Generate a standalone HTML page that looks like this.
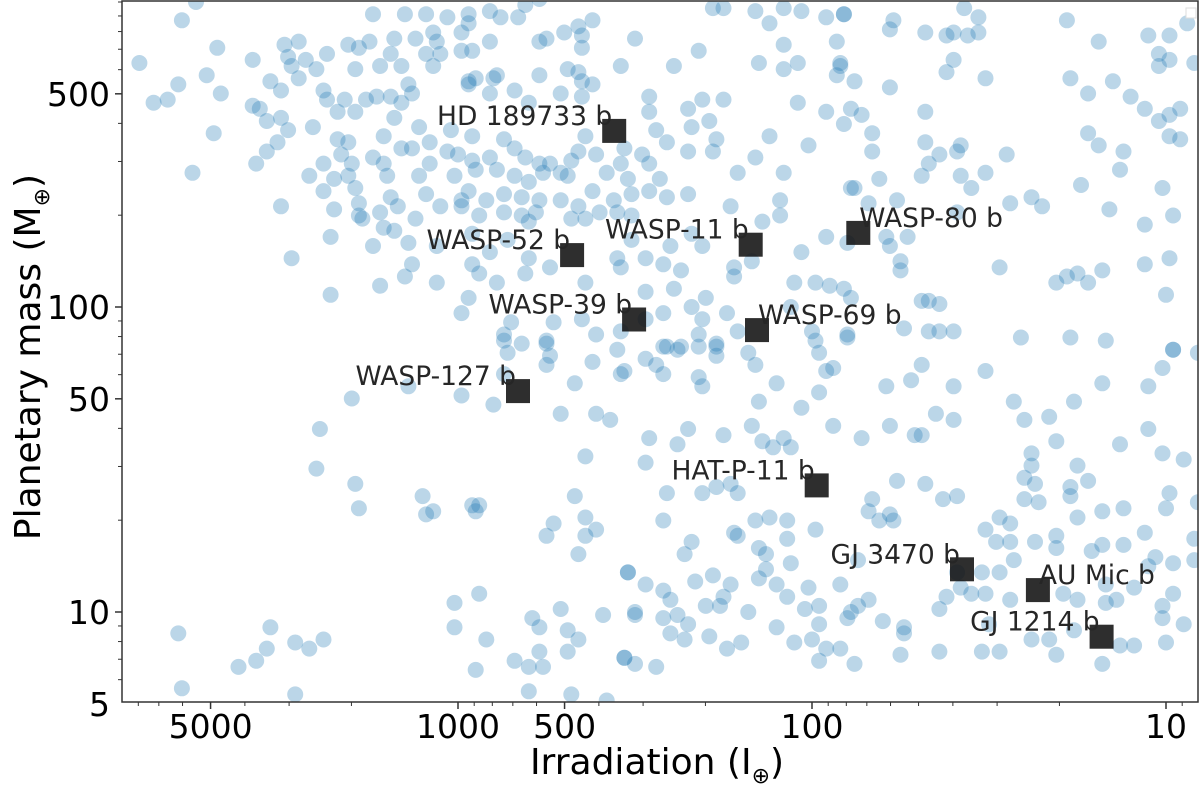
<!DOCTYPE html>
<html><head><meta charset="utf-8"><style>
html,body{margin:0;padding:0;background:#fff;}
svg{display:block;font-family:"DejaVu Sans","Liberation Sans",sans-serif;}
</style></head><body>
<svg id="chart" width="1200" height="789" viewBox="0 0 1200 789" xmlns="http://www.w3.org/2000/svg">
<defs><clipPath id="plotclip"><rect x="122" y="1" width="1076" height="701"/></clipPath></defs>
<g id="points" clip-path="url(#plotclip)"></g>
<g id="planets"></g>
<rect x="122" y="1" width="1076" height="701" fill="none" stroke="#333" stroke-width="1.5"/>
<rect x="1186" y="8" width="10" height="10" fill="#fff" stroke="#ddd" stroke-width="1"/>
<g id="axes"></g>
<text x="657" y="774" text-anchor="middle" font-size="36" fill="#000">Irradiation (I<tspan font-size="22" dy="9">⊕</tspan><tspan dy="-9">)</tspan></text>
<text transform="translate(40,357) rotate(-90)" text-anchor="middle" font-size="36" fill="#000">Planetary mass (M<tspan font-size="22" dy="9">⊕</tspan><tspan dy="-9">)</tspan></text>
</svg>
<script>
// log10(irradiation), log10(mass) pairs for the background exoplanet population
const populationLog = [
[3.90,2.80],[3.86,2.67],[3.82,2.68],[3.79,2.73],[3.78,2.94],[3.74,3.00],[3.75,2.44],[3.71,2.76],[3.69,2.57],[3.68,2.85],[3.67,2.70],[3.58,2.66],[3.58,2.81],[3.57,2.47],[3.56,2.65],[3.54,2.61],[3.54,2.51],[3.53,2.74],[3.51,2.54],[3.50,2.71],[3.50,2.33],[3.50,2.62],[3.49,2.86],[3.48,2.58],[3.48,2.82],[3.47,2.79],[3.47,2.16],[3.45,2.87],[3.45,2.75],[3.43,2.81],[3.42,2.43],[3.41,2.59],[3.40,2.78],[3.38,2.71],[3.38,2.47],[3.38,2.38],[3.37,2.83],[3.37,2.68],[3.36,2.23],[3.36,2.04],[3.35,2.32],[3.35,2.42],[3.34,2.55],[3.34,2.64],[3.33,2.50],[3.32,2.68],[3.31,2.86],[3.31,2.43],[3.31,2.54],[3.30,2.47],[3.29,2.64],[3.29,2.39],[3.29,2.78],[3.28,2.30],[3.28,2.85],[3.28,2.34],[3.27,2.29],[3.26,2.68],[3.25,2.87],[3.24,2.96],[3.24,2.49],[3.24,2.20],[3.23,2.69],[3.22,2.79],[3.22,2.31],[3.22,2.07],[3.21,2.56],[3.21,2.26],[3.21,2.47],[3.20,2.43],[3.19,2.83],[3.19,2.36],[3.19,2.69],[3.18,2.88],[3.18,2.62],[3.18,2.25],[3.17,2.33],[3.16,2.79],[3.16,2.67],[3.16,2.52],[3.15,2.10],[3.15,2.96],[3.14,2.21],[3.14,2.73],[3.13,2.70],[3.13,2.52],[3.13,2.14],[3.12,2.88],[3.12,2.29],[3.11,2.43],[3.11,2.59],[3.09,2.96],[3.09,2.83],[3.09,2.37],[3.08,2.54],[3.08,2.47],[3.07,2.79],[3.07,2.90],[3.06,2.20],[3.06,2.08],[3.06,2.87],[3.05,2.33],[3.05,2.83],[3.03,2.95],[3.03,2.51],[3.02,2.58],[3.01,2.43],[3.00,2.50],[2.99,1.98],[2.99,2.90],[2.99,2.84],[2.99,2.35],[2.97,2.73],[2.97,2.96],[2.97,2.93],[2.97,2.03],[2.96,2.56],[2.96,2.14],[2.96,2.84],[2.95,2.75],
[2.91,2.97],[2.88,2.95],[2.83,2.95],[2.81,2.99],[2.77,3.01],[2.91,2.87],[2.77,2.87],[2.75,2.88],[2.70,2.90],[2.66,2.92],[2.65,2.89],[2.65,2.85],[2.62,2.94],[2.50,2.88],[2.32,2.84],[2.28,2.98],[2.25,2.98],[2.16,2.97],[2.12,2.93],[2.08,2.98],[2.03,2.97],[1.96,2.95],[1.91,2.96],[2.08,2.86],[1.93,2.87],[2.15,2.80],[2.08,2.78],[2.04,2.80],[1.92,2.80],[1.93,2.76],[2.39,2.79],[2.54,2.79],[2.97,2.74],[2.90,2.75],[2.89,2.76],[2.91,2.70],[2.84,2.71],[2.77,2.76],[2.69,2.78],[2.66,2.77],[2.65,2.74],[2.62,2.73],[2.71,2.70],[2.65,2.69],[2.80,2.67],[2.46,2.69],[2.46,2.64],[2.44,2.58],[2.35,2.65],[2.34,2.59],[2.31,2.68],[2.25,2.68],[2.29,2.61],[2.27,2.55],[2.04,2.67],[1.96,2.64],[1.91,2.60],[1.89,2.65],[2.12,2.56],[2.01,2.53],[2.16,2.49],[2.21,2.44],[2.08,2.44],[2.41,2.54],[2.35,2.51],[2.28,2.51],[2.48,2.50],[2.46,2.47],[2.53,2.52],[2.61,2.50],[2.58,2.44],[2.54,2.47],[2.52,2.42],[2.43,2.42],[2.46,2.38],[2.41,2.36],[2.35,2.37],[2.23,2.33],[2.09,2.35],[2.09,2.30],[2.14,2.28],[1.89,2.39],[2.64,2.56],[2.66,2.51],[2.68,2.48],[2.71,2.44],[2.74,2.47],[2.77,2.47],[2.81,2.49],[2.84,2.52],[2.87,2.55],[2.91,2.49],[2.96,2.48],[2.95,2.45],[2.89,2.45],[2.84,2.43],[2.80,2.41],[2.76,2.44],[2.69,2.43],[2.62,2.38],[2.56,2.35],[2.51,2.37],[2.60,2.31],[2.66,2.33],[2.71,2.35],[2.77,2.35],[2.82,2.36],[2.87,2.37],[2.92,2.35],[2.97,2.38],[2.99,2.33],[2.94,2.30],[2.87,2.31],[2.82,2.30],[2.78,2.31],[2.80,2.28],[2.68,2.29],[2.64,2.29],[2.55,2.31],[2.51,2.30],[2.96,2.24],[2.91,2.18],[2.86,2.22],[2.80,2.16],[2.74,2.13],[2.94,2.11],[2.89,2.08],[2.81,2.11],[2.55,2.16],[2.54,2.13],[2.51,2.22],[2.47,2.16],[2.42,2.14],[2.37,2.12],[2.40,2.20],[2.34,2.24],[2.31,2.20],[2.22,2.13],[2.22,2.10],[2.17,2.15],[2.03,2.18],[2.05,2.08],[1.96,2.23],[1.99,2.08],[1.95,2.07],[1.91,2.06],[1.89,2.03],[2.64,2.08],[2.47,2.05],[2.39,2.06],[2.30,2.03],[2.34,2.00],[2.42,1.98],[2.47,1.96],[2.54,1.92],[2.65,1.96],[2.73,1.95],[2.85,1.95],[2.87,1.91],[2.82,1.88],[2.75,1.88],[2.42,1.87],[2.37,1.87],[2.32,1.91],[2.31,1.96],[2.24,1.98],[2.21,1.92],[2.06,2.00],[2.00,1.92],[1.90,1.91],[2.27,1.87],[2.18,1.85],[2.61,1.91],
[1.91,2.96],[1.77,2.94],[1.78,2.91],[1.68,2.90],[1.62,2.89],[1.60,2.90],[1.57,2.98],[1.56,2.89],[1.53,2.90],[1.53,2.95],[1.28,2.94],[1.19,2.87],[1.05,2.89],[0.99,2.89],[1.02,2.83],[0.99,2.81],[1.02,2.79],[0.94,2.93],[0.92,2.80],[1.92,2.79],[1.88,2.74],[1.78,2.72],[1.60,2.81],[1.62,2.77],[1.51,2.75],[1.27,2.75],[1.22,2.70],[1.15,2.74],[1.10,2.69],[1.06,2.65],[1.02,2.61],[0.99,2.63],[0.96,2.65],[0.99,2.56],[0.96,2.55],[1.86,2.63],[1.83,2.57],[1.83,2.51],[1.68,2.64],[1.68,2.54],[1.64,2.50],[1.59,2.51],[1.58,2.53],[1.67,2.47],[1.69,2.43],[1.58,2.43],[1.55,2.39],[1.51,2.44],[1.45,2.50],[1.22,2.57],[1.19,2.53],[1.12,2.51],[1.13,2.45],[1.24,2.40],[1.01,2.39],[1.88,2.39],[1.81,2.42],[1.84,2.34],[1.76,2.35],[1.73,2.23],[1.79,2.23],[1.78,2.20],[1.90,2.21],[1.75,2.15],[1.75,2.12],[1.59,2.31],[1.44,2.34],[1.38,2.36],[1.35,2.33],[1.16,2.32],[0.98,2.30],[1.06,2.27],[1.47,2.13],[1.31,2.08],[1.28,2.10],[1.25,2.11],[1.22,2.08],[1.18,2.12],[1.06,2.14],[0.99,2.16],[1.00,2.04],[1.69,2.02],[1.67,2.02],[1.64,2.01],[1.74,1.93],[1.67,1.92],[1.64,1.92],[1.60,1.92],[1.90,1.90],[1.41,1.90],[1.27,1.90],[1.17,1.89],[0.98,1.86],[0.91,1.85],
[2.87,1.89],[2.75,1.89],[2.86,1.85],[2.74,1.84],[2.75,1.81],[2.62,1.82],[2.55,1.86],[2.54,1.78],[2.67,1.75],[2.87,1.78],[3.14,1.74],[2.99,1.71],[2.90,1.68],[3.30,1.70],[2.71,1.65],[2.61,1.65],[2.57,1.63],[3.39,1.60],[2.64,1.51],[3.40,1.47],[3.29,1.42],[3.10,1.38],[3.28,1.34],[3.09,1.32],[3.07,1.33],[2.96,1.35],[2.94,1.35],[2.95,1.33],[2.67,1.38],[2.64,1.31],[2.73,1.29],[2.61,1.27],[2.75,1.25],[2.64,1.25],[2.66,1.19],[2.52,1.13],[2.94,1.06],[3.01,1.03],[2.79,0.98],[2.71,1.01],[2.59,0.99],[2.50,1.00],[2.77,0.95],[2.69,0.94],[3.01,0.95],[2.92,0.91],[2.66,0.91],[2.77,0.87],[2.69,0.87],[2.84,0.84],[2.80,0.82],[2.76,0.82],[2.53,0.85],[2.50,0.83],[2.95,0.81],[2.80,0.74],[2.68,0.73],[2.58,0.71],[3.79,0.93],[3.78,0.75],[3.53,0.95],[3.54,0.88],[3.57,0.84],[3.62,0.82],[3.46,0.90],[3.42,0.88],[3.38,0.91],[3.46,0.73],
[2.53,1.79],[2.47,1.83],[2.44,1.81],[2.42,1.78],[2.41,1.87],[2.38,1.86],[2.32,1.87],[2.32,1.77],[2.31,1.74],[2.27,1.84],[2.27,1.88],[2.16,1.81],[2.15,1.69],[2.10,1.75],[2.03,1.67],[1.99,1.89],[1.98,1.85],[1.96,1.79],[1.94,1.80],[1.98,1.72],[1.94,1.61],[1.86,1.57],[1.79,1.74],[1.78,1.61],[1.72,1.76],[1.71,1.58],[1.69,1.58],[1.69,1.81],[1.65,1.65],[1.60,1.74],[1.60,1.63],[1.51,1.79],[1.43,1.69],[1.40,1.63],[1.33,1.64],[1.31,1.56],[1.26,1.69],[1.18,1.75],[1.05,1.74],[1.05,1.60],[1.13,1.55],[1.01,1.52],[0.95,1.50],[0.98,1.86],[1.01,1.80],[2.46,1.57],[2.38,1.55],[2.35,1.60],[2.25,1.58],[2.17,1.61],[2.14,1.56],[2.11,1.54],[2.08,1.57],[2.06,1.54],[2.47,1.49],[2.41,1.39],[2.42,1.30],[2.31,1.39],[2.27,1.41],[2.23,1.42],[2.21,1.39],[2.34,1.23],[2.36,1.19],[2.22,1.26],[2.21,1.25],[2.16,1.30],[2.12,1.31],[2.07,1.30],[2.07,1.24],[1.99,1.27],[2.15,1.21],[2.13,1.19],[2.15,1.11],[2.13,1.14],[2.06,1.16],[2.52,1.13],[2.47,1.09],[2.42,1.07],[2.40,1.04],[2.33,1.10],[2.28,1.12],[2.23,1.09],[2.30,1.02],[2.26,1.02],[2.25,1.05],[2.50,0.99],[2.42,0.98],[2.38,0.99],[2.35,0.96],[2.40,0.93],[2.36,0.91],[2.29,0.92],[2.24,0.88],[2.20,0.90],[2.18,1.00],[2.53,0.85],[2.44,0.82],[2.10,1.09],[2.07,1.05],[2.01,1.08],[2.02,1.01],[1.98,1.02],[1.98,0.96],[1.90,0.98],[1.89,1.00],[1.87,1.02],[1.80,0.97],[1.84,1.04],[1.92,1.09],[1.87,1.17],[2.10,0.95],[2.05,0.90],[2.00,0.91],[1.96,0.88],[1.98,0.84],[1.92,0.88],[1.88,0.83],[1.75,0.86],[1.74,0.93],[1.74,0.95],[1.64,0.87],[1.64,1.01],[1.62,1.05],[1.59,1.13],[1.58,1.08],[1.55,1.06],[1.51,1.06],[1.50,0.96],[1.44,1.04],[1.43,1.17],[1.47,1.13],[1.52,1.13],[1.44,1.23],[1.48,1.23],[1.51,1.27],[1.47,1.31],[1.44,1.29],[1.37,1.23],[1.31,1.25],[1.31,1.21],[1.47,0.87],[1.52,0.87],[1.38,0.91],[1.33,0.91],[1.31,0.86],[1.29,1.06],[1.25,1.04],[1.26,0.94],[1.21,1.20],[1.18,1.22],[1.12,1.22],[1.17,1.09],[1.14,1.04],[1.09,1.08],[1.17,1.03],[1.05,1.15],[1.03,1.18],[0.98,1.16],[0.98,1.06],[1.01,1.02],[1.01,0.98],[0.95,0.96],[1.00,0.90],[1.13,0.89],[1.09,0.89],[1.18,0.83],[0.92,1.24],[0.92,1.17],[1.06,1.26],[1.18,1.33],[1.12,1.34],[1.25,1.31],[1.27,1.38],[1.27,1.41],[1.22,1.43],[1.36,1.36],[1.40,1.37],[1.37,1.42],[1.40,1.44],[1.38,1.48],[1.38,1.52],[1.25,1.48],[1.00,1.34],[0.99,1.39],[0.91,1.36],[1.63,1.37],[1.59,1.38],[1.83,1.37],[1.84,1.33],[1.81,1.30],[1.77,1.30],[1.78,1.32],[1.68,1.42],[1.76,1.43]
];
const logIrradiation = populationLog.map(p => p[0]);
const logMass = populationLog.map(p => p[1]);

const planetNames = ["HD 189733 b","WASP-52 b","WASP-11 b","WASP-80 b","WASP-39 b","WASP-69 b","WASP-127 b","HAT-P-11 b","GJ 3470 b","AU Mic b","GJ 1214 b"];
const planetIrradiation = [362, 476, 149, 74, 318, 143, 677, 97, 37.7, 23, 15.2];
const planetMass = [378, 148, 160, 175, 91, 84, 53, 26, 13.8, 11.8, 8.3];
const labelRightSide = [false,false,false,true,false,true,false,false,false,true,false];

const xTickValues = [5000, 1000, 500, 100, 10];
const xTickLabels = ["5000","1000","500","100","10"];
const yTickValues = [500, 100, 50, 10, 5];
const yTickLabels = ["500","100","50","10","5"];

const NS = "http://www.w3.org/2000/svg";
function xLog(l){ return 812 + 354*(2 - l); }
function yLog(l){ return 612 - 305*(l - 1); }
function xOf(v){ return xLog(Math.log10(v)); }
function yOf(v){ return yLog(Math.log10(v)); }
function mk(tag, attrs, parent){ const e=document.createElementNS(NS,tag); for(const k in attrs) e.setAttribute(k,attrs[k]); parent.appendChild(e); return e; }

const gp = document.getElementById("points");
for (let i=0;i<logIrradiation.length;i++){
  const c = mk("circle",{cx:xLog(logIrradiation[i]).toFixed(1),cy:yLog(logMass[i]).toFixed(1),r:8,fill:"rgb(31,119,180)","fill-opacity":0.3},gp);
  
  
}

const gpl = document.getElementById("planets");
for (let i=0;i<planetNames.length;i++){
  const cx = xOf(planetIrradiation[i]), cy = yOf(planetMass[i]);
  const s = mk("rect",{x:(cx-12).toFixed(1),y:(cy-12).toFixed(1),width:24,height:24,fill:"#111","fill-opacity":0.88},gpl);
  
  
  const right = labelRightSide[i];
  const t = mk("text",{x:right?(cx+1).toFixed(1):(cx-2).toFixed(1),y:(cy-6).toFixed(1),"text-anchor":right?"start":"end","font-size":26.5,fill:"#262626"},gpl);
  t.textContent = planetNames[i];
  
  
}

const ga = document.getElementById("axes");
for (let d=0; d<=3; d++){
  for (let m=1;m<10;m++){
    const v = m*Math.pow(10,d);
    const x = xOf(v);
    if (x>122 && x<1198){
      const major = xTickValues.indexOf(v)>=0;
      const tk = mk("line",{x1:x,x2:x,y1:702,y2:702+(major?7:4),stroke:"#333","stroke-width":major?1.5:1},ga);
      
      
    }
    const y = yOf(v);
    if (y>1 && y<=703){
      const major = yTickValues.indexOf(v)>=0;
      const tk = mk("line",{x1:122,x2:122-(major?7:4),y1:y,y2:y,stroke:"#333","stroke-width":major?1.5:1},ga);
      
      
    }
  }
}
for (let i=0;i<xTickValues.length;i++){
  const t = mk("text",{x:xOf(xTickValues[i]).toFixed(1),y:738,"text-anchor":"middle","font-size":33,fill:"#000"},ga);
  t.textContent = xTickLabels[i];
  
  
}
for (let i=0;i<yTickValues.length;i++){
  const t = mk("text",{x:110,y:(yOf(yTickValues[i])+12).toFixed(1),"text-anchor":"end","font-size":33,fill:"#000"},ga);
  t.textContent = yTickLabels[i];
  
  
}
</script>
</body></html>
